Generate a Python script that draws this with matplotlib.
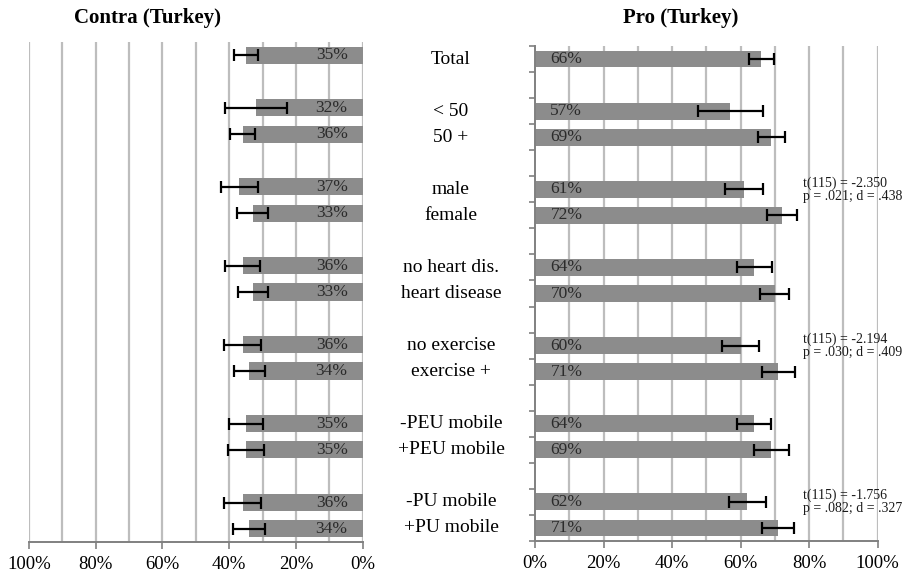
import matplotlib
matplotlib.use("Agg")
import matplotlib.pyplot as plt
import matplotlib.transforms as mtransforms
import numpy as np

plt.rcParams["font.family"] = ["Liberation Serif", "DejaVu Serif"]

# groups of categories, one empty row between groups
groups = [
    ["Total"],
    ["< 50", "50 +"],
    ["male", "female"],
    ["no heart dis.", "heart disease"],
    ["no exercise", "exercise +"],
    ["-PEU mobile", "+PEU mobile"],
    ["-PU mobile", "+PU mobile"],
]

contra = [35, 32, 36, 37, 33, 36, 33, 36, 34, 35, 35, 36, 34]
contra_err = [3.7, 9.4, 3.7, 5.5, 4.6, 5.3, 4.5, 5.5, 4.7, 5.0, 5.3, 5.5, 4.8]

pro = [66, 57, 69, 61, 72, 64, 70, 60, 71, 64, 69, 62, 71]
pro_err = [3.6, 9.5, 3.9, 5.5, 4.4, 5.2, 4.2, 5.5, 4.8, 5.0, 5.2, 5.4, 4.7]

# t-test notes: (label of the row they sit next to, text)
stats_notes = [
    ("male", "t(115) = -2.350\np = .021; d = .438"),
    ("no exercise", "t(115) = -2.194\np = .030; d = .409"),
    ("-PU mobile", "t(115) = -1.756\np = .082; d = .327"),
]

# slot positions (row 0 at top), with a blank slot after each group
labels, ypos = [], []
slot = 0
for g in groups:
    for name in g:
        labels.append(name)
        ypos.append(slot)
        slot += 1
    slot += 1
n_slots = slot - 1
ypos = np.array(ypos)

BAR = "#8c8c8c"
GRID = "#bdbdbd"
W, H = 903, 574

fig = plt.figure(figsize=(W / 100, H / 100), dpi=100)
ax_l = fig.add_axes([29 / W, (H - 542) / H, 333.7 / W, 500 / H])
ax_r = fig.add_axes([535 / W, (H - 541) / H, 342.7 / W, 495 / H])


def style(ax):
    ax.set_ylim(n_slots - 0.5, -0.5)
    ax.set_xlim(0, 100)
    ax.set_xticks(np.arange(0, 101, 20))
    ax.set_xticklabels([f"{v}%" for v in range(0, 101, 20)], fontsize=13.5)
    for v in range(10, 101, 10):
        ax.axvline(v, color=GRID, lw=1.6, zorder=0)
    ax.tick_params(axis="x", length=5, width=1.2, color="#808080", pad=5)
    for s in ["top", "right", "left"]:
        ax.spines[s].set_visible(False)
    ax.spines["bottom"].set_color("#808080")
    ax.spines["bottom"].set_linewidth(1.4)


# left panel (contra), reversed axis
ax_l.barh(ypos, contra, height=0.65, color=BAR, zorder=2)
ax_l.errorbar(contra, ypos, xerr=contra_err, fmt="none", ecolor="black",
              elinewidth=1.6, capsize=4.5, capthick=1.6, zorder=3)
style(ax_l)
ax_l.set_xlim(100, 0)
ax_l.set_yticks([])
ax_l.axvline(0, color=GRID, lw=1.6, zorder=0)
for y, v in zip(ypos, contra):
    ax_l.text(4.5, y, f"{v}%", ha="right", va="center", fontsize=12.5,
              color="#2b2b2b", zorder=4)

# right panel (pro)
ax_r.barh(ypos, pro, height=0.65, color=BAR, zorder=2)
ax_r.errorbar(pro, ypos, xerr=pro_err, fmt="none", ecolor="black",
              elinewidth=1.6, capsize=4.5, capthick=1.6, zorder=3)
style(ax_r)
ax_r.spines["left"].set_visible(True)
ax_r.spines["left"].set_color("#808080")
ax_r.spines["left"].set_linewidth(1.4)
ax_r.set_yticks(np.arange(-0.5, n_slots, 1))
ax_r.set_yticklabels([])
ax_r.tick_params(axis="y", length=4, width=1.2, color="#808080")
for y, v in zip(ypos, pro):
    ax_r.text(4.5, y, f"{v}%", ha="left", va="center", fontsize=12.5,
              color="#2b2b2b", zorder=4)

for row, txt in stats_notes:
    y = ypos[labels.index(row)]
    ax_r.text(78.3, y, txt, ha="left", va="center", fontsize=10,
              linespacing=1.0, color="#1a1a1a", zorder=4)

# panel titles
fig.text(148 / W, 1 - 18 / H, "Contra (Turkey)", ha="center", va="center",
         fontsize=15, fontweight="bold")
fig.text(681 / W, 1 - 18 / H, "Pro (Turkey)", ha="center", va="center",
         fontsize=15, fontweight="bold")

# category labels in the middle gap
trans = mtransforms.blended_transform_factory(fig.transFigure, ax_r.transData)
for y, name in zip(ypos, labels):
    fig.text(451 / W, y, name, transform=trans, ha="center", va="center",
             fontsize=14)

fig.savefig("out.png", dpi=100)
